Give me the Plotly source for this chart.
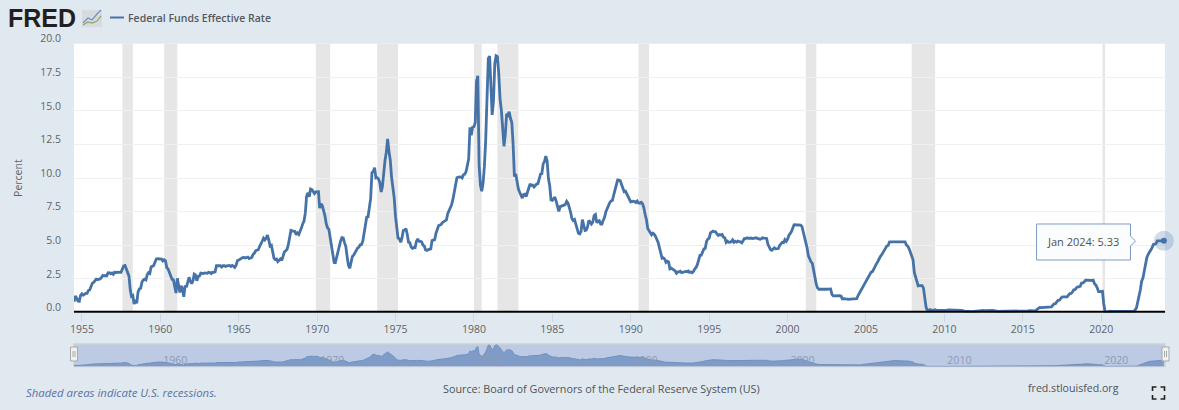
import pandas as pd
import plotly.graph_objects as go

W, H = 1179, 410
ML, MR = 74, 13.5

START = "1954-07-01"
rate = [
0.80,1.22,1.07,0.85,0.83,1.28,
1.39,1.29,1.35,1.43,1.43,1.64,1.68,1.96,2.18,2.24,2.35,2.48,
2.45,2.50,2.50,2.62,2.75,2.71,2.75,2.73,2.95,2.96,2.88,2.94,
2.84,3.00,2.96,3.00,3.00,3.00,2.99,3.24,3.47,3.50,3.28,2.98,
2.72,1.67,1.20,1.26,0.63,0.93,0.68,1.53,1.76,1.80,2.27,2.42,
2.48,2.43,2.80,2.96,2.90,3.39,3.47,3.50,3.76,3.98,4.00,3.99,
3.99,3.97,3.84,3.92,3.85,3.32,3.23,2.98,2.60,2.47,2.44,1.98,
1.45,2.54,2.02,1.49,1.98,1.73,1.17,2.00,1.88,2.26,2.62,2.33,
2.15,2.37,2.85,2.78,2.36,2.68,2.71,2.93,2.90,2.90,2.94,2.93,
2.91,3.00,2.98,2.90,3.00,2.99,3.02,3.49,3.48,3.50,3.48,3.38,
3.48,3.48,3.43,3.47,3.50,3.50,3.42,3.50,3.45,3.36,3.52,3.85,
3.90,3.98,4.04,4.09,4.10,4.05,4.09,4.12,4.01,4.08,4.10,4.32,
4.42,4.60,4.65,4.67,4.90,5.17,5.30,5.53,5.40,5.53,5.76,5.40,
4.94,5.00,4.53,4.05,3.94,3.98,3.79,3.90,3.99,3.88,4.13,4.51,
4.60,4.71,5.05,5.76,6.11,6.07,6.02,6.03,5.78,5.92,5.81,6.02,
6.30,6.61,6.79,7.41,8.67,8.90,8.61,9.19,9.15,9.00,8.85,8.97,
8.98,8.98,7.76,8.10,7.95,7.61,7.21,6.61,6.29,6.20,5.60,4.90,
4.14,3.72,3.71,4.15,4.63,4.91,5.31,5.57,5.55,5.20,4.91,4.14,
3.50,3.29,3.83,4.17,4.27,4.46,4.55,4.80,4.87,5.04,5.06,5.33,
5.94,6.58,7.09,7.12,7.84,8.49,10.40,10.50,10.78,10.01,10.03,9.95,
9.65,8.97,9.35,10.51,11.31,11.93,12.92,12.01,11.34,10.06,9.45,8.53,
7.13,6.24,5.54,5.49,5.22,5.55,6.10,6.14,6.24,5.82,5.22,5.20,
4.87,4.77,4.84,4.82,5.29,5.48,5.31,5.29,5.25,5.02,4.95,4.65,
4.61,4.68,4.69,4.73,5.35,5.39,5.42,5.90,6.14,6.47,6.51,6.56,
6.70,6.78,6.79,6.89,7.36,7.60,7.81,8.04,8.45,8.96,9.76,10.03,
10.07,10.06,10.09,10.01,10.24,10.29,10.47,10.94,11.43,13.77,13.18,13.78,
13.82,14.13,17.19,17.61,10.98,9.47,9.03,9.61,10.87,12.81,15.85,18.90,
19.08,15.93,14.70,15.72,18.52,19.10,19.04,17.82,15.87,15.08,13.31,12.37,
13.22,14.78,14.68,14.94,14.45,14.15,12.59,10.12,10.31,9.71,9.20,8.95,
8.68,8.51,8.77,8.80,8.63,8.98,9.37,9.56,9.45,9.48,9.34,9.47,
9.56,9.59,9.91,10.29,10.32,11.06,11.23,11.64,11.30,9.99,9.43,8.38,
8.35,8.50,8.58,8.27,7.97,7.53,7.88,7.90,7.92,7.99,8.05,8.27,
8.14,7.86,7.48,6.99,6.85,6.92,6.56,6.17,5.89,5.85,6.04,6.91,
6.43,6.10,6.13,6.37,6.85,6.73,6.58,6.73,7.22,7.29,6.69,6.77,
6.83,6.58,6.58,6.87,7.09,7.51,7.75,8.01,8.19,8.30,8.35,8.76,
9.12,9.36,9.85,9.84,9.81,9.53,9.24,8.99,9.02,8.84,8.55,8.45,
8.23,8.24,8.28,8.26,8.18,8.29,8.15,8.13,8.20,8.11,7.81,7.31,
6.91,6.25,6.12,5.91,5.78,5.90,5.82,5.66,5.45,5.21,4.81,4.43,
4.03,4.06,3.98,3.73,3.82,3.76,3.25,3.30,3.22,3.10,3.09,2.92,
3.02,3.03,3.07,2.96,3.00,3.04,3.06,3.03,3.09,2.99,3.02,2.96,
3.05,3.25,3.34,3.56,4.01,4.25,4.26,4.47,4.73,4.76,5.29,5.45,
5.53,5.92,5.98,6.05,6.01,6.00,5.85,5.74,5.80,5.76,5.80,5.60,
5.56,5.22,5.31,5.22,5.24,5.27,5.40,5.22,5.30,5.24,5.31,5.29,
5.25,5.19,5.39,5.51,5.50,5.56,5.52,5.54,5.54,5.50,5.52,5.50,
5.56,5.51,5.49,5.45,5.49,5.56,5.54,5.55,5.51,5.07,4.83,4.68,
4.63,4.76,4.81,4.74,4.74,4.76,4.99,5.07,5.22,5.20,5.42,5.30,
5.45,5.73,5.85,6.02,6.27,6.53,6.54,6.50,6.52,6.51,6.51,6.40,
5.98,5.49,5.31,4.80,4.21,3.97,3.77,3.65,3.07,2.49,2.09,1.82,
1.73,1.74,1.73,1.75,1.75,1.75,1.73,1.74,1.75,1.75,1.34,1.24,
1.24,1.26,1.25,1.26,1.26,1.22,1.01,1.03,1.01,1.01,1.00,0.98,
1.00,1.01,1.00,1.00,1.00,1.03,1.26,1.43,1.61,1.76,1.93,2.16,
2.28,2.50,2.63,2.79,3.00,3.04,3.26,3.50,3.62,3.78,4.00,4.16,
4.29,4.49,4.59,4.79,4.94,4.99,5.24,5.25,5.25,5.25,5.25,5.24,
5.25,5.26,5.26,5.25,5.25,5.25,5.26,5.02,4.94,4.76,4.49,4.24,
3.94,2.98,2.61,2.28,1.98,2.00,2.01,2.00,1.81,0.97,0.39,0.16,
0.15,0.22,0.18,0.15,0.18,0.21,0.16,0.16,0.15,0.12,0.12,0.12,
0.11,0.13,0.16,0.20,0.20,0.18,0.18,0.19,0.19,0.19,0.19,0.18,
0.17,0.16,0.14,0.10,0.09,0.09,0.07,0.10,0.08,0.07,0.08,0.07,
0.08,0.10,0.13,0.14,0.16,0.16,0.16,0.13,0.14,0.16,0.16,0.16,
0.14,0.15,0.14,0.15,0.11,0.09,0.09,0.08,0.08,0.09,0.08,0.09,
0.07,0.07,0.08,0.09,0.09,0.10,0.09,0.09,0.09,0.09,0.09,0.12,
0.11,0.11,0.11,0.12,0.12,0.13,0.13,0.14,0.14,0.12,0.12,0.24,
0.34,0.38,0.36,0.37,0.37,0.38,0.39,0.40,0.40,0.40,0.41,0.54,
0.65,0.66,0.79,0.90,0.91,1.04,1.15,1.16,1.15,1.15,1.16,1.30,
1.41,1.42,1.51,1.69,1.70,1.82,1.91,1.91,1.95,2.19,2.20,2.27,
2.40,2.40,2.41,2.42,2.39,2.38,2.40,2.13,2.04,1.83,1.55,1.55,
1.55,1.58,0.65,0.05,0.05,0.08,0.09,0.10,0.09,0.09,0.09,0.09,
0.09,0.08,0.07,0.07,0.06,0.08,0.10,0.09,0.08,0.08,0.08,0.08,
0.08,0.08,0.20,0.33,0.77,1.21,1.68,2.33,2.56,3.08,3.78,4.10,
4.33,4.57,4.65,4.83,5.06,5.08,5.12,5.33,5.33,5.33,5.33,5.33,
5.33,
]
dates = pd.date_range(START, periods=len(rate), freq="MS")

recession_start = ["1957-08-01","1960-04-01","1969-12-01","1973-11-01","1980-01-01",
                   "1981-07-01","1990-07-01","2001-03-01","2007-12-01","2020-02-01"]
recession_end   = ["1958-04-01","1961-02-01","1970-11-01","1975-03-01","1980-07-01",
                   "1982-11-01","1991-03-01","2001-11-01","2009-06-01","2020-04-01"]
y_ticks = [0, 2.5, 5, 7.5, 10, 12.5, 15, 17.5, 20]
SERIES = "Federal Funds Effective Rate"
TOOLTIP = "Jan 2024: 5.33"
SOURCE = "Source: Board of Governors of the Federal Reserve System (US)"
NOTE = "Shaded areas indicate U.S. recessions."
SITE = "fred.stlouisfed.org"

BG = "#e1e9f0"; BLUE = "#4572a7"; TXT = "#5f6368"; FONT = "Open Sans"
X_RANGE = ["1954-07-01", "2024-01-27"]


def px(x):
    return (x - ML) / (W - ML - MR)

def py(y):
    return (H - y) / H

def poly(points, close=False):
    s = "M" + " L".join(f"{px(a):.5f},{py(b):.5f}" for a, b in points)
    return s + (" Z" if close else "")

fig = go.Figure()
fig.add_trace(go.Scatter(x=dates, y=rate, mode="lines", name=SERIES, showlegend=False,
                         line=dict(color=BLUE, width=2.8), xaxis="x", yaxis="y"))
fig.add_trace(go.Scatter(x=dates[-1:], y=rate[-1:], mode="markers", showlegend=False, cliponaxis=False,
                         marker=dict(size=20, color="rgba(69,114,167,0.25)"), xaxis="x", yaxis="y"))
fig.add_trace(go.Scatter(x=dates[-1:], y=rate[-1:], mode="markers", showlegend=False, cliponaxis=False,
                         marker=dict(size=6, color=BLUE), xaxis="x", yaxis="y"))
fig.add_trace(go.Scatter(x=dates, y=rate, mode="lines", showlegend=False, fill="tozeroy",
                         fillcolor="#7f9cc8", line=dict(color="#6f90c0", width=1), xaxis="x2", yaxis="y2"))

shapes = []
for a, b in zip(recession_start, recession_end):
    shapes.append(dict(type="rect", xref="x", yref="y domain", x0=a, x1=b, y0=0, y1=1,
                       fillcolor="#e6e6e6", line_width=0, layer="below"))
shapes.append(dict(type="rect", xref="x2 domain", yref="y2 domain", x0=0, x1=1, y0=0, y1=1,
                   fillcolor="#bccae3", line=dict(color="#ccd2dc", width=1.5), layer="below"))
# black base line of the main axis
shapes.append(dict(type="line", xref="paper", yref="paper", x0=0, x1=1, y0=py(311.7), y1=py(311.7),
                   line=dict(color="black", width=2)))
# legend line
shapes.append(dict(type="line", xref="paper", yref="paper", x0=px(110), x1=px(124), y0=py(17.5), y1=py(17.5),
                   line=dict(color=BLUE, width=2)))
# logo chart icon
shapes.append(dict(type="path", xref="paper", yref="paper", path=poly([(82, 10), (102, 10), (102, 27), (82, 27)], True),
                   fillcolor="#d7dbdf", line_width=0))
shapes.append(dict(type="path", xref="paper", yref="paper", path=poly([(83, 23), (88, 18), (92, 20), (97, 14), (101, 10)]),
                   line=dict(color="#6f8fbc", width=1.2)))
shapes.append(dict(type="path", xref="paper", yref="paper", path=poly([(83, 25), (88, 22), (92, 23), (97, 21), (101, 16)]),
                   line=dict(color="#8ba765", width=1.2)))
# navigator handles
for hx in (74, 1166):
    shapes.append(dict(type="rect", xref="paper", yref="paper", x0=px(hx - 3.5), x1=px(hx + 3.5), y0=py(361), y1=py(347),
                       fillcolor="#f2f2f2", line=dict(color="#a8a8a8", width=1)))
    for off in (-1, 1):
        shapes.append(dict(type="line", xref="paper", yref="paper", x0=px(hx + off), x1=px(hx + off), y0=py(351), y1=py(357),
                           line=dict(color="#a8a8a8", width=1)))
# tooltip
shapes.append(dict(type="path", xref="paper", yref="paper",
                   path=poly([(1037, 224), (1131, 224), (1131, 236), (1136, 241), (1131, 246), (1131, 260), (1037, 260)], True),
                   fillcolor="#fbfcfd", line=dict(color="#7d9cc3", width=1)))
# fullscreen icon
for cx, cy, dx, dy in ((1153, 387, 1, 1), (1165, 387, -1, 1), (1153, 399, 1, -1), (1165, 399, -1, -1)):
    shapes.append(dict(type="path", xref="paper", yref="paper",
                       path=poly([(cx + 4 * dx, cy), (cx, cy), (cx, cy + 4 * dy)]),
                       line=dict(color="#222222", width=1.6)))

def note(x, y, text, anchor="left", **font):
    f = dict(family=FONT, size=10.5, color=TXT)
    f.update(font)
    xo = x - 2 if anchor == "left" else x
    return dict(xref="paper", yref="paper", x=px(xo), y=py(y), text=text, showarrow=False,
                xanchor=anchor, yanchor="middle", font=f)

annotations = [
    note(7.5, 18, "<b>FRED</b>", family="Liberation Sans", size=25, color="#231f20"),
    note(128, 17.5, SERIES, size=10.5, weight=600, color="#55595e"),
    note(1083, 241.5, TOOLTIP, "center", size=11, color="#505050"),
    note(26, 392, f"<i>{NOTE}</i>", size=11.4, color="#5a72a6"),
    note(601.5, 388, SOURCE, "center", size=10.8, color="#4f5357"),
    note(1074, 388, SITE, "center", size=10.6, color="#4f5357"),
]

fig.update_layout(
    width=W, height=H, margin=dict(l=ML, r=MR, t=0, b=0, pad=0),
    paper_bgcolor=BG, plot_bgcolor="white", showlegend=False,
    font=dict(family=FONT, size=10.5, color=TXT),
    shapes=shapes, annotations=annotations,
    xaxis=dict(type="date", range=X_RANGE, anchor="y", domain=[0, 1], tick0="1955-01-01", dtick="M60",
               automargin=False, tickformat="%Y", showgrid=False, zeroline=False, showline=False,
               ticks="outside", ticklen=8, tickcolor="#ccd6eb", tickwidth=1, ticklabelstandoff=-1,
               tickfont=dict(size=10.5, color=TXT)),
    yaxis=dict(range=[0, 20], anchor="x", domain=[py(312.5), py(43.7)], tickmode="array", tickvals=y_ticks,
               automargin=False,
               ticktext=[f"{v:.1f}" for v in y_ticks], showgrid=True, gridcolor="#f0f0f0", gridwidth=1.4,
               zeroline=False, ticks="", ticklabelshift=-5, ticklabelstandoff=12, tickfont=dict(size=10.5, color=TXT),
               title=dict(text="Percent", font=dict(size=10.5, color=TXT), standoff=15)),
    xaxis2=dict(type="date", range=X_RANGE, anchor="y2", domain=[0, 1], tick0="1960-01-01", dtick="M120",
                automargin=False, tickformat="%Y", showgrid=False, zeroline=False, ticks="",
                ticklabelposition="inside", ticklabelshift=15, ticklabelstandoff=-3,
                tickfont=dict(size=10.5, color="#8c9ab5")),
    yaxis2=dict(range=[0, 20], anchor="x2", domain=[py(366.5), py(344)], showgrid=False, zeroline=False,
                automargin=False, showticklabels=False, ticks=""),
)
fig.write_html("out.html", config=dict(displayModeBar=False),
               post_script="document.body.style.margin='0';document.body.style.background='#e1e9f0';")
